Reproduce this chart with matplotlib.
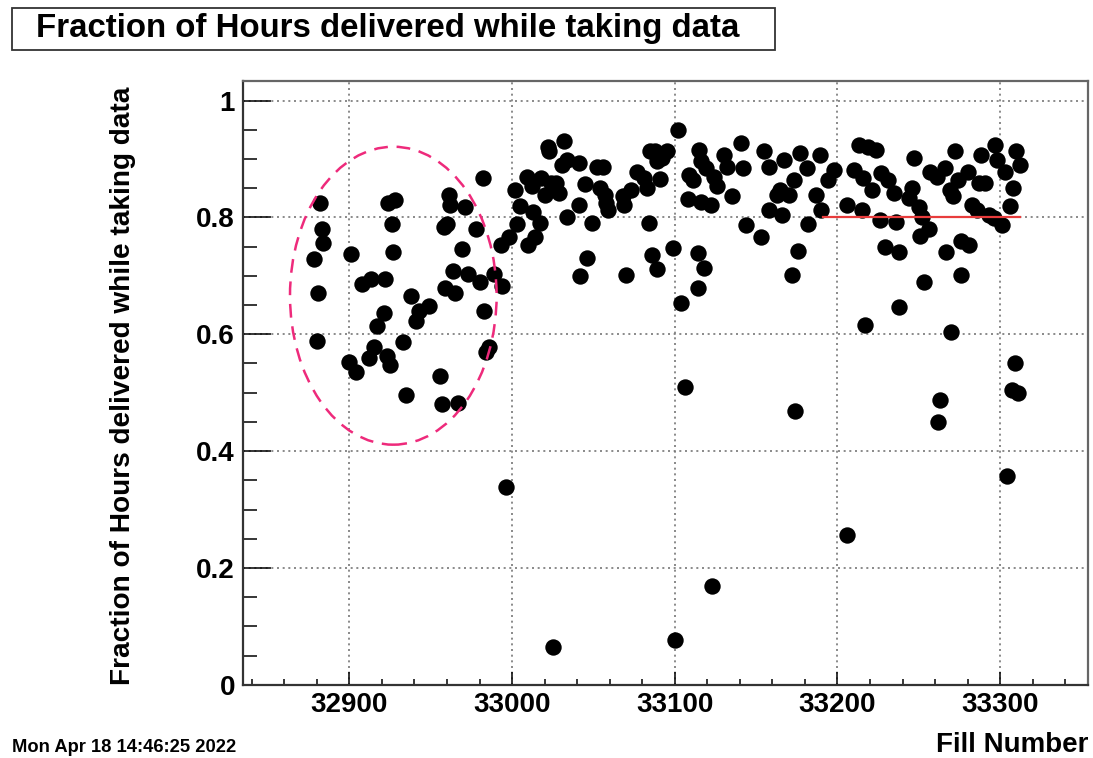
import matplotlib
matplotlib.use("Agg")
from matplotlib import pyplot as plt
from matplotlib.patches import Ellipse, Rectangle

# fill number / fraction of delivered hours with the detector taking data
fills_early = [32882, 32883, 32884, 32878, 32881, 32880, 32901, 32900, 32904, 32908,
               32913, 32922, 32924, 32928, 32926, 32927, 32921, 32917, 32915, 32912,
               32923, 32925, 32933, 32935, 32938, 32941, 32943, 32949, 32956, 32957,
               32967, 32959, 32965, 32964, 32973, 32980, 32989, 32994, 32983, 32986,
               32984, 32969, 32958, 32960, 32978, 32961, 32962, 32971, 32982, 32993,
               32998, 33003, 33002, 33005, 33009, 33010, 32996]
frac_early = [0.825, 0.781, 0.757, 0.729, 0.670, 0.589, 0.737, 0.553, 0.536, 0.686,
              0.695, 0.694, 0.825, 0.830, 0.789, 0.740, 0.636, 0.614, 0.578, 0.560,
              0.562, 0.547, 0.587, 0.496, 0.666, 0.622, 0.639, 0.649, 0.529, 0.481,
              0.483, 0.679, 0.670, 0.709, 0.704, 0.690, 0.704, 0.682, 0.640, 0.579,
              0.570, 0.746, 0.784, 0.789, 0.780, 0.838, 0.821, 0.817, 0.868, 0.753,
              0.766, 0.789, 0.847, 0.819, 0.870, 0.753, 0.339]

fills_mid = [33012, 33014, 33013, 33017, 33018, 33020, 33022, 33023, 33024, 33027,
             33029, 33032, 33031, 33034, 33041, 33034, 33041, 33045, 33049, 33046,
             33042, 33052, 33056, 33054, 33057, 33058, 33059, 33070, 33068, 33069,
             33073, 33077, 33081, 33083, 33084, 33086, 33089, 33085, 33088, 33089,
             33092, 33095, 33091, 33099, 33102, 33106, 33104, 33109, 33111, 33108,
             33115, 33116, 33114, 33118, 33114, 33116, 33122, 33119, 33124, 33126,
             33130, 33132, 33135, 33141, 33142, 33144, 33153, 33155, 33158, 33158,
             33025, 33100, 33123]
frac_mid = [0.854, 0.767, 0.810, 0.790, 0.867, 0.839, 0.921, 0.913, 0.859, 0.859,
            0.841, 0.930, 0.890, 0.898, 0.893, 0.800, 0.821, 0.857, 0.790, 0.730,
            0.699, 0.886, 0.887, 0.850, 0.839, 0.824, 0.813, 0.702, 0.836, 0.821,
            0.847, 0.877, 0.867, 0.850, 0.791, 0.736, 0.711, 0.914, 0.913, 0.896,
            0.901, 0.913, 0.865, 0.747, 0.949, 0.509, 0.654, 0.873, 0.864, 0.832,
            0.916, 0.896, 0.739, 0.713, 0.680, 0.827, 0.821, 0.884, 0.870, 0.853,
            0.907, 0.887, 0.837, 0.927, 0.884, 0.787, 0.767, 0.913, 0.887, 0.813,
            0.064, 0.077, 0.169]

fills_late = [33167, 33165, 33163, 33166, 33170, 33173, 33177, 33181, 33189, 33187,
              33190, 33182, 33194, 33198, 33176, 33172, 33174, 33206, 33213, 33210,
              33215, 33217, 33219, 33224, 33216, 33221, 33227, 33231, 33226, 33229,
              33235, 33236, 33238, 33238, 33247, 33246, 33244, 33250, 33252, 33256,
              33251, 33253, 33257, 33261, 33263, 33262, 33267, 33266, 33269, 33272,
              33271, 33274, 33276, 33281, 33270, 33276, 33280, 33283, 33286, 33288,
              33287, 33291, 33293, 33297, 33298, 33296, 33301, 33303, 33310, 33312,
              33308, 33306, 33309, 33307, 33311, 33304, 33206]
frac_late = [0.898, 0.847, 0.838, 0.804, 0.838, 0.864, 0.910, 0.884, 0.907, 0.838,
             0.813, 0.789, 0.864, 0.881, 0.743, 0.702, 0.468, 0.821, 0.924, 0.881,
             0.813, 0.616, 0.921, 0.916, 0.867, 0.847, 0.876, 0.864, 0.796, 0.750,
             0.841, 0.793, 0.741, 0.647, 0.901, 0.850, 0.833, 0.818, 0.801, 0.781,
             0.768, 0.690, 0.878, 0.870, 0.487, 0.450, 0.741, 0.884, 0.847, 0.914,
             0.836, 0.864, 0.759, 0.753, 0.604, 0.702, 0.878, 0.821, 0.813, 0.907,
             0.859, 0.859, 0.804, 0.924, 0.898, 0.799, 0.787, 0.878, 0.913, 0.890,
             0.850, 0.820, 0.551, 0.505, 0.499, 0.357, 0.257]

# target level and the range of fills it applies to
target_level = 0.8
target_fills = [33191, 33312]

# highlighted group of early fills (centre, full width, full height)
ring_center = (32927, 0.666)
ring_size = (127, 0.51)

xticks = [32900, 33000, 33100, 33200, 33300]
yticks = [0, 0.2, 0.4, 0.6, 0.8, 1.0]

FONT = "Liberation Sans"

fig = plt.figure(figsize=(10.93, 7.58), dpi=100)
ax = fig.add_axes([0.2226, 0.0966, 0.7728, 0.7969])

fills = fills_early + fills_mid + fills_late
frac = frac_early + frac_mid + frac_late
ax.plot(fills, frac, 'o', color='black', markersize=11.8, markeredgewidth=0, zorder=3)

ax.plot(target_fills, [target_level, target_level], '-', color='#e83c3c', lw=1.6, zorder=4)

ax.add_patch(Ellipse(ring_center, ring_size[0], ring_size[1], fill=False,
                     edgecolor='#ee2a7b', lw=1.8, linestyle=(0, (5.5, 3.5)), zorder=5))

ax.set_xlim(32834.8, 33354.0)
ax.set_ylim(0, 1.034)
ax.set_xticks(xticks)
ax.set_yticks(yticks)
ax.set_yticklabels(['0', '0.2', '0.4', '0.6', '0.8', '1'])
ax.set_xticks(range(32840, 33354, 20), minor=True)
ax.set_yticks([v / 20 for v in range(0, 21)], minor=True)

ax.grid(True, which='major', color='#777777', lw=1.2, linestyle=(0, (1.2, 2.2)), zorder=1)

ax.tick_params(axis='x', which='major', direction='in', length=9.5, width=1.1,
               pad=5, labelsize=20, top=False)
ax.tick_params(axis='x', which='minor', direction='in', length=4.5, width=1.1, top=False)
ax.tick_params(axis='y', which='major', direction='in', length=20, width=1.1,
               pad=6, labelsize=20, right=False)
ax.tick_params(axis='y', which='minor', direction='in', length=10, width=1.1, right=False)
for lbl in ax.get_xticklabels() + ax.get_yticklabels():
    lbl.set_fontfamily(FONT)
    lbl.set_fontweight('bold')

for side in ['left', 'bottom']:
    ax.spines[side].set_linewidth(1.6)
    ax.spines[side].set_color('#333333')
for side in ['top', 'right']:
    ax.spines[side].set_linewidth(1.6)
    ax.spines[side].set_color('#666666')

ax.set_ylabel('Fraction of Hours delivered while taking data', fontsize=20.2,
              fontweight='bold', fontfamily=FONT)
ax.yaxis.set_label_coords(-0.127, 0.495)

# title box
fig.add_artist(Rectangle((12 / 1093, 1 - 50 / 758), 763 / 1093, 42 / 758,
                         transform=fig.transFigure, fill=True, facecolor='white',
                         edgecolor='#333333', lw=1.3))
fig.text(388 / 1093, 1 - 29 / 758, 'Fraction of Hours delivered while taking data',
         ha='center', va='center', fontsize=23.8, fontweight='bold', fontfamily=FONT)

fig.text(1088 / 1093, 1 - 745 / 758, 'Fill Number', ha='right', va='center',
         fontsize=20, fontweight='bold', fontfamily=FONT)
fig.text(12 / 1093, 1 - 747 / 758, 'Mon Apr 18 14:46:25 2022', ha='left', va='center',
         fontsize=13.2, fontweight='bold', fontfamily=FONT)

fig.savefig('out.png', dpi=100)
